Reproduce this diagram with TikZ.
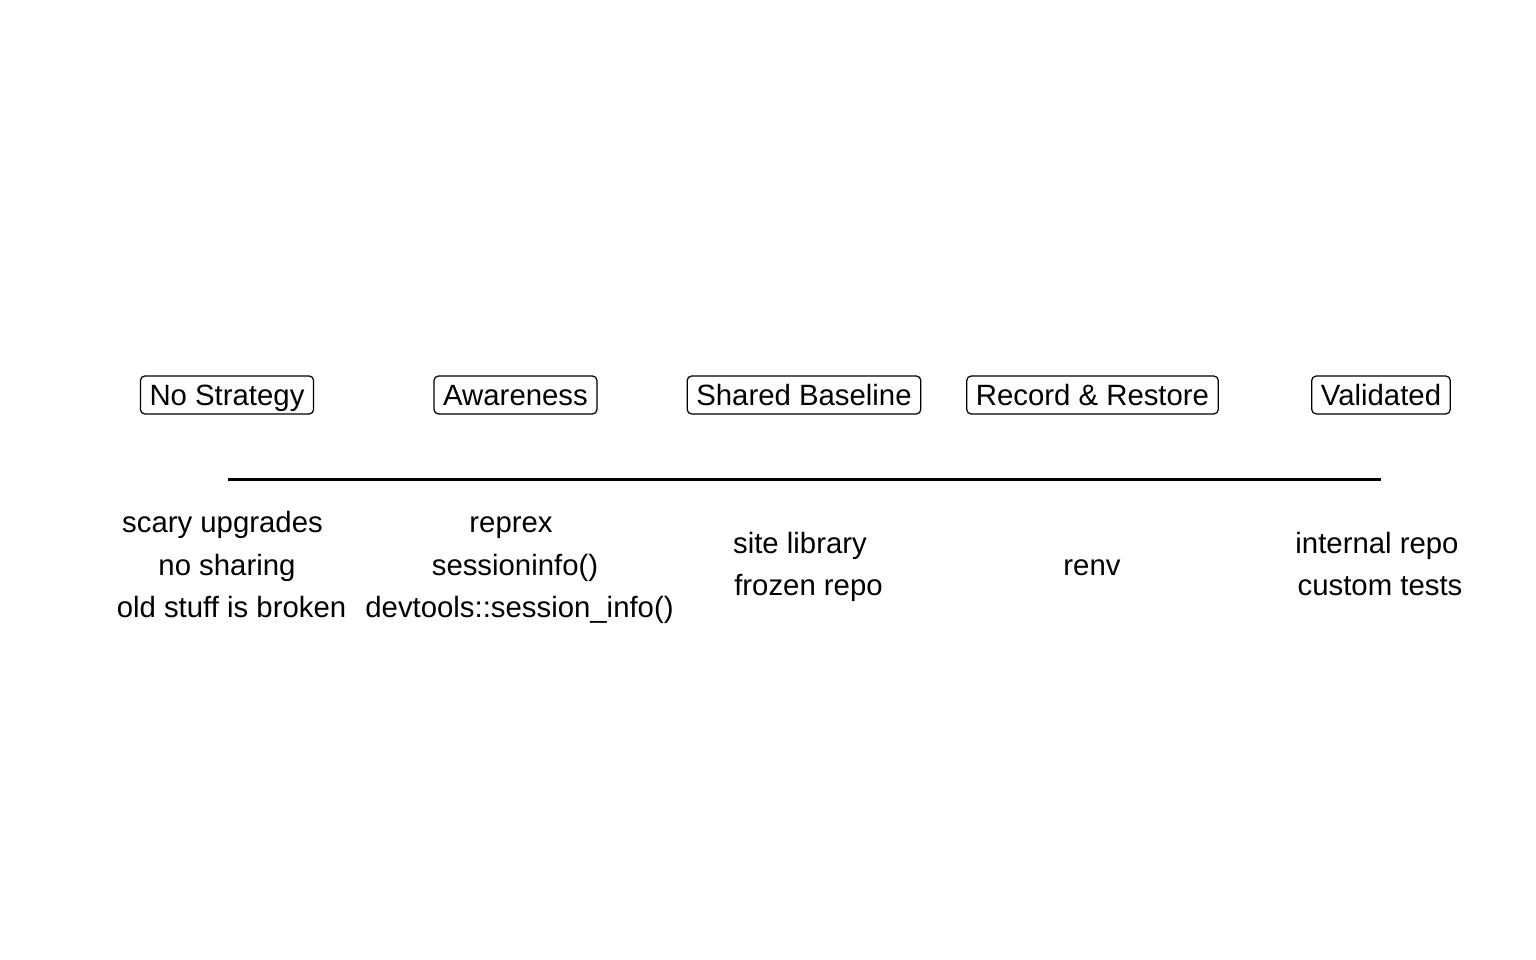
\documentclass[tikz,border=0pt]{standalone}
\usepackage{fontspec}
\setmainfont{Liberation Sans}
\usetikzlibrary{positioning}
\newcommand{\boxlevel}{565}
\newcommand{\linelevel}{480}
\newcommand{\rowone}{438}
\newcommand{\rowtwo}{395}
\newcommand{\rowthree}{353}
\newcommand{\rowhalfone}{417}
\newcommand{\rowhalftwo}{375}

\begin{document}
\begin{tikzpicture}[x=0.02cm,y=0.02cm]

\tikzstyle{stage}=[draw,rounded corners=2.5pt,line width=0.7pt,font=\fontsize{16.7}{20}\selectfont,text height=12pt,text depth=0pt,minimum height=21.6pt,inner xsep=5.2pt,inner ysep=0pt]
\tikzstyle{item}=[font=\fontsize{16.7}{20}\selectfont,text height=12pt,text depth=0pt,inner sep=0pt]

%% fix the page size
\useasboundingbox (0,0) rectangle (1536,960);

%% the five stages
\node (nostrat)  [stage] at (227,\boxlevel) {No Strategy};
\node (aware)    [stage] at (515.5,\boxlevel) {Awareness};
\node (shared)   [stage] at (804,\boxlevel) {Shared Baseline};
\node (record)   [stage] at (1092.5,\boxlevel) {Record \& Restore};
\node (valid)    [stage] at (1381,\boxlevel) {Validated};

%% timeline
\coordinate (tstart) at (228,\linelevel);
\coordinate (tend) at (1381,\linelevel);
\draw[line width=1.7pt] (tstart) -- (tend);

%% what each stage looks like
\node (scary)   [item] at (222.5,\rowone) {scary upgrades};
\node (noshare) [item] at (227,\rowtwo) {no sharing};
\node (broken)  [item] at (231.5,\rowthree) {old stuff is broken};

\node (reprex)  [item] at (511,\rowone) {reprex};
\node (sinfo)   [item] at (515,\rowtwo) {sessioninfo()};
\node (dtinfo)  [item] at (519.5,\rowthree) {devtools::session\_info()};

\node (sitelib) [item] at (800,\rowhalfone) {site library};
\node (frozen)  [item] at (808.5,\rowhalftwo) {frozen repo};

\node (renv)    [item] at (1092,\rowtwo) {renv};

\node (intrepo) [item] at (1377,\rowhalfone) {internal repo};
\node (ctests)  [item] at (1380,\rowhalftwo) {custom tests};

\end{tikzpicture}
\end{document}
